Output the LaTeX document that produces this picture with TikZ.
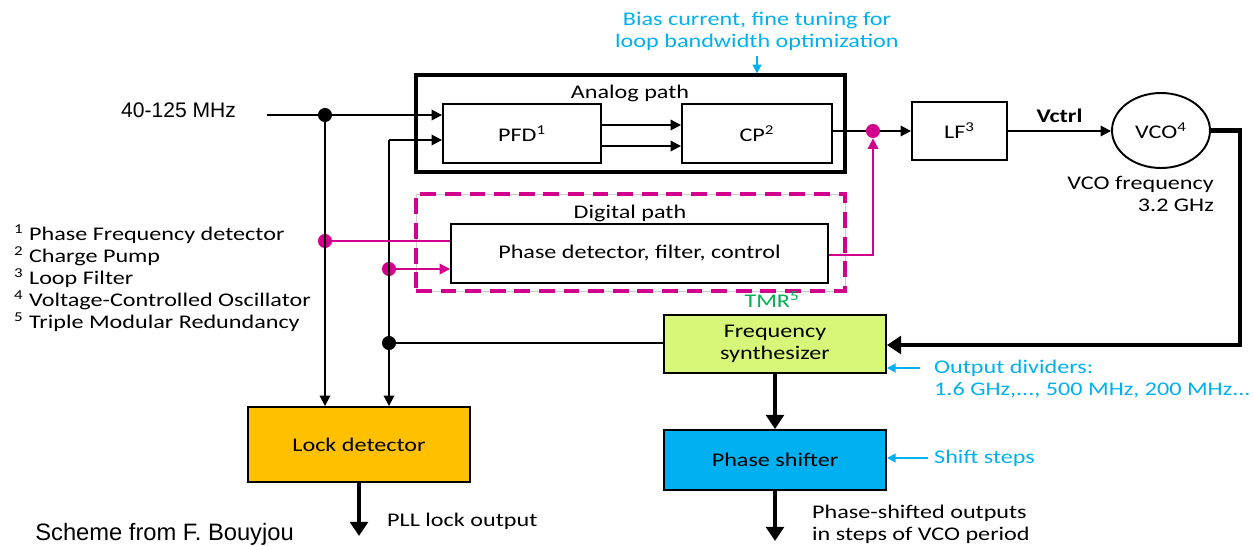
\documentclass[tikz,border=0pt]{standalone}
\usepackage{fontspec}
\setmainfont{Carlito}[FakeStretch=1.25]
\newfontfamily\arialfont{Liberation Sans}
\usetikzlibrary{arrows.meta,shapes.geometric}
\definecolor{pllmagenta}{RGB}{210,0,140}
\definecolor{pllcyan}{RGB}{0,176,240}
\definecolor{pllgreen}{RGB}{0,176,80}
\definecolor{synthgreen}{RGB}{214,247,120}
\definecolor{lockorange}{RGB}{255,192,0}

\begin{document}
\begin{tikzpicture}[x=0.02cm, y=-0.02cm, font=\fontsize{11}{12.5}\selectfont]
        \tikzstyle{blk}=[draw, line width=1.1pt, inner sep=2pt, align=center]
        \tikzstyle{frame}=[draw, line width=1.8pt, minimum width=8.58cm, minimum height=1.94cm]
        \tikzstyle{wire}=[line width=1.1pt]
        \tikzstyle{arr}=[wire, -{Triangle[length=6pt,width=6pt]}]
        \tikzstyle{fat}=[line width=2.8pt, -{Triangle[length=8pt,width=10pt]}]
        \tikzstyle{dot}=[circle, fill, inner sep=0pt, minimum size=8pt]
        \tikzstyle{hint}=[draw=pllcyan, line width=1.1pt, -{Triangle[length=5pt,width=5pt]}]
        \useasboundingbox (0,0) rectangle (1254,545);

        % analog and digital path
        \node[frame] (analog) at (630.5,123.5) {};
        \node at (630,93) {Analog path};
        \draw[gray!40, line width=0.4pt] (416,194) rectangle (845,291);
        \node[frame, draw=pllmagenta, dash pattern=on 9pt off 5pt] (digital) at (630.5,242.5) {};
        \node at (630,213) {Digital path};
        \node[text=pllgreen] (tmr) at (772,300) {TMR\textsuperscript{5}};

        \node[blk, minimum width=3.16cm, minimum height=1.18cm] (pfd) at (522,133.5) {PFD\textsuperscript{1}};
        \node[blk, minimum width=3.0cm, minimum height=1.18cm] (cp) at (757,133.5) {CP\textsuperscript{2}};
        \node[blk, minimum width=7.54cm, minimum height=1.18cm] (pd) at (639.5,253.5) {Phase detector, filter, control};
        \node[blk, minimum width=1.9cm, minimum height=1.16cm] (lf) at (959.5,131) {LF\textsuperscript{3}};
        \node[blk, ellipse, minimum width=1.96cm, minimum height=1.5cm] (vco) at (1161,130.5) {VCO\textsuperscript{4}};
        \node[blk, fill=synthgreen, minimum width=4.44cm, minimum height=1.16cm] (fs) at (775,344) {Frequency\\synthesizer};
        \node[blk, fill=pllcyan, minimum width=4.44cm, minimum height=1.2cm] (ps) at (775,460) {Phase shifter};
        \node[blk, fill=lockorange, minimum width=4.44cm, minimum height=1.5cm] (lock) at (359,444.5) {Lock detector};

        % inputs
        \node[anchor=west, font=\arialfont\fontsize{12}{13}\selectfont] (fin) at (115,110) {40-125 MHz};
        \coordinate (in) at (267,115);
        \coordinate (c2) at (389,140);
        \node[dot] (d1) at (325,115) {};
        \node[dot] (d2) at (389,343) {};
        \node[dot, pllmagenta] (m1) at (325,241) {};
        \node[dot, pllmagenta] (m2) at (389,269) {};
        \node[dot, pllmagenta] (m3) at (873,131) {};
        \draw[arr] (in) -- (pfd.west |- in);
        \draw[arr] (d1) -- (d1 |- lock.north);
        \draw[arr] (c2) -- (pfd.west |- c2);
        \draw[arr] (c2) -- (c2 |- lock.north);
        \draw[wire] (d2) -- (fs.west |- d2);
        \draw[wire, pllmagenta] (m1) -- (pd.west |- m1);
        \draw[arr, pllmagenta] (m2) -- (pd.west |- m2);

        % loop
        \draw[arr] (pfd.east |- 0,125) -- (cp.west |- 0,125);
        \draw[arr] (pfd.east |- 0,146) -- (cp.west |- 0,146);
        \draw[wire] (cp.east |- m3) -- (m3);
        \draw[arr] (m3) -- (lf.west |- m3);
        \draw[arr, pllmagenta] (pd.east |- 0,255) -| (m3.south);
        \draw[arr] (lf.east) -- node[above=1pt, font=\bfseries\fontsize{11}{12.5}\selectfont] {Vctrl} (vco.west |- lf.east);
        \coordinate (turn) at (1240,345);
        \draw[fat] (vco.east) -| (turn) -- (fs.east |- turn);
        \node[anchor=east, align=right] (vcof) at (1220,194) {VCO frequency\\3.2 GHz};

        % outputs
        \draw[fat] (fs.south) -- (ps.north);
        \coordinate (psout) at (775,541);
        \coordinate (lockout) at (359,536);
        \draw[fat] (ps.south) -- (psout);
        \draw[fat] (lock.south) -- (lockout);
        \node[anchor=west, align=left] (psnote) at (806,524) {Phase-shifted outputs\\in steps of VCO period};
        \node[anchor=west] (locknote) at (381,521) {PLL lock output};

        % settings
        \node[text=pllcyan, align=center] (bias) at (757,31) {Bias current, fine tuning for\\loop bandwidth optimization};
        \draw[hint] (bias.south) -- (analog.north -| bias.south);
        \node[text=pllcyan, anchor=west, align=left] (div) at (928,379) {Output dividers:\\1.6 GHz,..., 500 MHz, 200 MHz...};
        \coordinate (divtip) at (920,368);
        \draw[hint] (divtip) -- (fs.east |- divtip);
        \node[text=pllcyan, anchor=west] (steps) at (928,458) {Shift steps};
        \draw[hint] (steps.west) -- (ps.east |- steps.west);

        % legend
        \node[anchor=west, align=left] (legend) at (8,278) {\textsuperscript{1}~Phase Frequency detector\\\textsuperscript{2}~Charge Pump\\\textsuperscript{3}~Loop Filter\\\textsuperscript{4}~Voltage-Controlled Oscillator\\\textsuperscript{5}~Triple Modular Redundancy};
        \node[anchor=base west, inner sep=0pt, font=\arialfont\fontsize{13.5}{15}\selectfont] (credit) at (35,540) {Scheme from F. Bouyjou};
    \end{tikzpicture}
\end{document}
